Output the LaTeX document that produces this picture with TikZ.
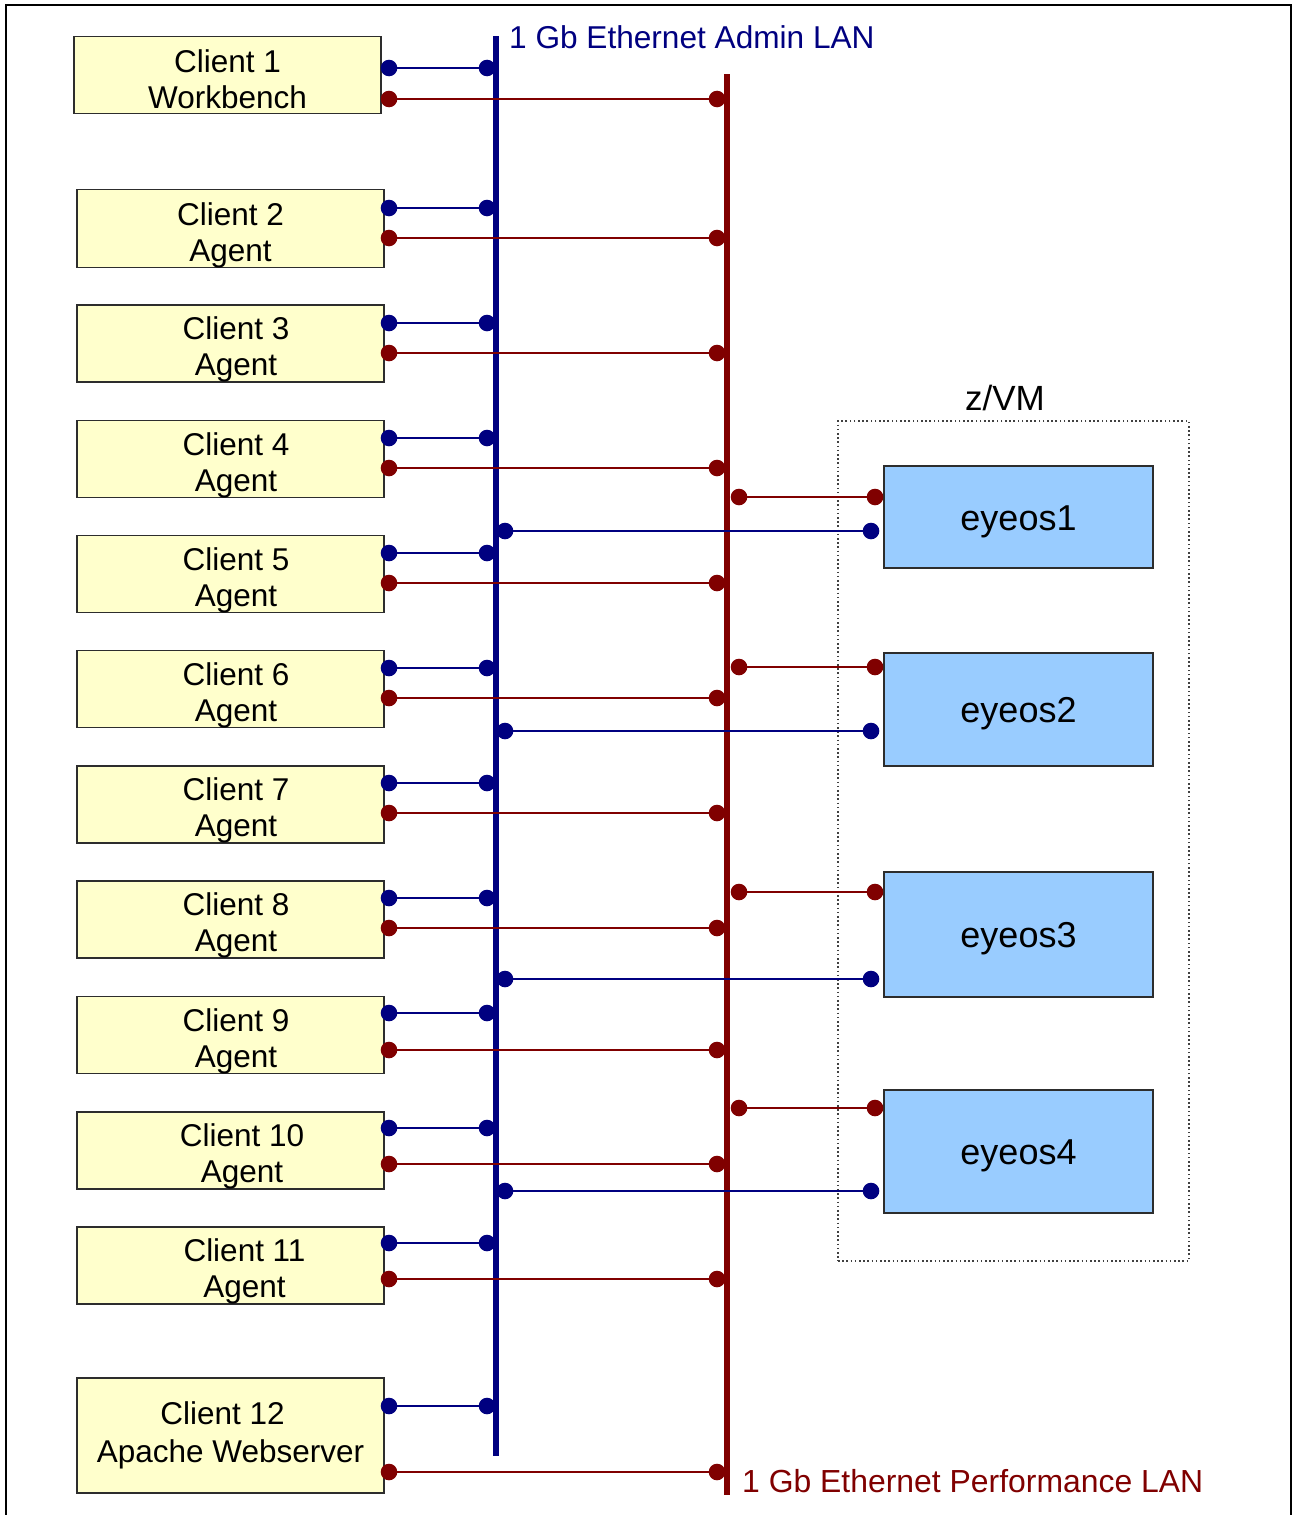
\documentclass[tikz,border=0pt]{standalone}
\usepackage{fontspec}
\setmainfont{Liberation Sans}
\definecolor{adminblue}{RGB}{0,0,128}
\definecolor{perfred}{RGB}{128,0,0}
\definecolor{clientfill}{RGB}{255,255,204}
\definecolor{vmfill}{RGB}{153,204,255}
\definecolor{boxline}{RGB}{45,45,45}
\newcommand\firstline[1]{\rule{0pt}{#1}}
\begin{document}
\begin{tikzpicture}[x=1pt,y=-1pt,
  clientbox/.style={draw=boxline, line width=1.6pt, fill=clientfill, inner sep=0pt,
    minimum width=307pt, minimum height=77pt, align=center,
    font=\fontsize{31.5}{35.6}\selectfont},
  vmbox/.style={draw=boxline, line width=1.6pt, fill=vmfill, inner sep=0pt,
    minimum width=269pt, font=\fontsize{36}{40}\selectfont},
  zvmframe/.style={draw=black!75, line width=1.4pt, dash pattern=on 1.6pt off 2.6pt,
    inner sep=0pt, minimum width=351pt, minimum height=840pt},
  adminbus/.style={draw=adminblue, line width=6pt},
  perfbus/.style={draw=perfred, line width=6pt},
  bline/.style={draw=adminblue, line width=1.8pt},
  rline/.style={draw=perfred, line width=1.8pt},
  bdot/.style={fill=adminblue},
  rdot/.style={fill=perfred},
  lanlabel/.style={anchor=base west, inner sep=0pt, font=\fontsize{31.6}{36}\selectfont},
]
\useasboundingbox (0,0) rectangle (1294,1515);
% outer frame
\draw[black, line width=1.6pt] (6,1515) -- (6,5) -- (1291,5) -- (1291,1515);

% z/VM frame
\node[zvmframe] (zvm) at (1013.5,841) {};
\node[anchor=base, inner sep=0pt, font=\fontsize{35}{38}\selectfont] (zvmlabel) at (1005,410) {z/VM};

% buses
\coordinate (adminTop) at (496,36);
\coordinate (adminBot) at (496,1456);
\coordinate (perfTop) at (726.5,74);
\coordinate (perfBot) at (726.5,1495);
\draw[adminbus] (adminTop) -- (adminBot);
\draw[perfbus] (perfTop) -- (perfBot);

% bus labels
\node[lanlabel, text=adminblue] (adminlabel) at (509,48) {1 Gb Ethernet Admin LAN};
\node[lanlabel, text=perfred, font=\fontsize{31.9}{36}\selectfont] (perflabel) at (742,1492) {1 Gb Ethernet Performance LAN};

% client boxes
\node[clientbox] (c1) at (227.5,75) {\firstline{31.3pt}Client 1\\Workbench};
\node[clientbox] (c2) at (230.5,228.5) {\firstline{36pt}Client 2\\Agent};
\node[clientbox] (c3) at (230.5,343.5) {\hspace*{11pt}\firstline{35pt}Client 3\\\hspace*{11pt}Agent};
\node[clientbox] (c4) at (230.5,459) {\hspace*{11pt}\firstline{35pt}Client 4\\\hspace*{11pt}Agent};
\node[clientbox] (c5) at (230.5,574) {\hspace*{11pt}\firstline{35pt}Client 5\\\hspace*{11pt}Agent};
\node[clientbox] (c6) at (230.5,689) {\hspace*{11pt}\firstline{35pt}Client 6\\\hspace*{11pt}Agent};
\node[clientbox] (c7) at (230.5,804.5) {\hspace*{11pt}\firstline{35pt}Client 7\\\hspace*{11pt}Agent};
\node[clientbox] (c8) at (230.5,919.5) {\hspace*{11pt}\firstline{35pt}Client 8\\\hspace*{11pt}Agent};
\node[clientbox] (c9) at (230.5,1035) {\hspace*{11pt}\firstline{35pt}Client 9\\\hspace*{11pt}Agent};
\node[clientbox] (c10) at (230.5,1150.5) {\hspace*{23pt}\firstline{35pt}Client 10\\\hspace*{23pt}Agent};
\node[clientbox] (c11) at (230.5,1265.5) {\hspace*{28pt}\firstline{35pt}Client 11\\\hspace*{28pt}Agent};
\node[clientbox, minimum height=115pt] (c12) at (230.5,1435.5) {Client 12\hspace*{16pt}\\[2.8pt]Apache Webserver};

% eyeos boxes
\node[vmbox, minimum height=102pt] (e1) at (1018.5,517) {\firstline{34pt}eyeos1};
\node[vmbox, minimum height=113pt] (e2) at (1018.5,709.5) {\firstline{34pt}eyeos2};
\node[vmbox, minimum height=125pt] (e3) at (1018.5,934.5) {\firstline{34pt}eyeos3};
\node[vmbox, minimum height=123pt] (e4) at (1018.5,1151.5) {\firstline{34pt}eyeos4};

% client connections
\foreach \n/\yb/\yr in {1/68/99, 2/208/238, 3/323/353, 4/438/468, 5/553/583,
  6/668/698, 7/783/813, 8/898/928, 9/1013/1050, 10/1128/1164, 11/1243/1279, 12/1406/1472} {
  \coordinate (cb\n) at (389,\yb);
  \coordinate (ab\n) at (487,\yb);
  \coordinate (cr\n) at (389,\yr);
  \coordinate (pr\n) at (717,\yr);
  \draw[bline] (cb\n) -- (ab\n);
  \draw[rline] (cr\n) -- (pr\n);
  \fill[bdot] (cb\n) circle (8.3);
  \fill[bdot] (ab\n) circle (8.3);
  \fill[rdot] (cr\n) circle (8.3);
  \fill[rdot] (pr\n) circle (8.3);
}

% eyeos connections
\foreach \n/\yr/\yb in {1/497/531, 2/667/731, 3/892/979, 4/1108/1191} {
  \coordinate (pe\n) at (739,\yr);
  \coordinate (er\n) at (875,\yr);
  \coordinate (ae\n) at (505,\yb);
  \coordinate (eb\n) at (871,\yb);
  \draw[rline] (pe\n) -- (er\n);
  \draw[bline] (ae\n) -- (eb\n);
  \fill[rdot] (pe\n) circle (8.3);
  \fill[rdot] (er\n) circle (8.3);
  \fill[bdot] (ae\n) circle (8.3);
  \fill[bdot] (eb\n) circle (8.3);
}
\end{tikzpicture}
\end{document}
